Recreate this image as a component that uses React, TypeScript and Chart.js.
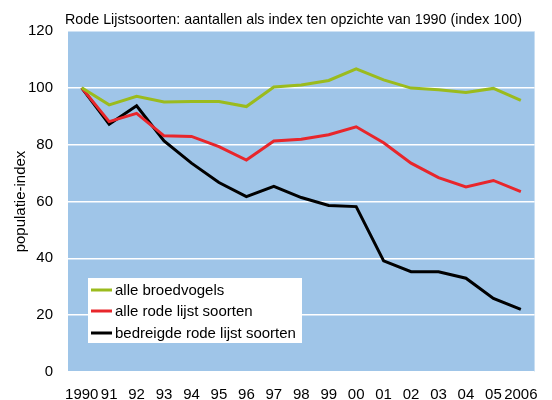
import React, { useEffect, useRef } from "react";
import { Chart, registerables } from "chart.js";

Chart.register(...registerables);

const years = ["1990", "91", "92", "93", "94", "95", "96", "97", "98", "99", "00", "01", "02", "03", "04", "05", "2006"];
const alleBroedvogels = [100, 94, 97, 95, 95.2, 95.2, 93.4, 100.3, 101, 102.6, 106.7, 102.8, 99.9, 99.3, 98.4, 99.8, 95.6];
const alleRodeLijst = [100, 88.1, 91, 83.1, 82.9, 79.3, 74.6, 81.3, 81.9, 83.5, 86.3, 80.7, 73.5, 68.4, 65.1, 67.4, 63.5];
const bedreigdeRodeLijst = [100, 87.2, 93.7, 81.3, 73.5, 66.7, 61.7, 65.3, 61.4, 58.6, 58.2, 39.1, 35.3, 35.3, 33, 25.9, 22];

const seriesLabels = ["alle broedvogels", "alle rode lijst soorten", "bedreigde rode lijst soorten"];
const seriesColors = ["#9bbb1d", "#e8262b", "#000000"];
const titleText = "Rode Lijstsoorten: aantallen als index ten opzichte van 1990 (index 100)";
const yAxisTitle = "populatie-index";

const FONT = "'Liberation Sans', Arial, sans-serif";

const bgPlugin = {
  id: "bgPlugin",
  beforeDraw(chart: any) {
    const { ctx, chartArea } = chart;
    ctx.save();
    ctx.fillStyle = "#9fc5e8";
    ctx.fillRect(chartArea.left, chartArea.top, chartArea.right - chartArea.left, chartArea.bottom - chartArea.top);
    ctx.restore();
  },
};

const overlayPlugin = {
  id: "overlayPlugin",
  afterDraw(chart: any) {
    const { ctx } = chart;
    ctx.save();
    // title
    ctx.font = `14.3px ${FONT}`;
    ctx.fillStyle = "#000";
    ctx.textBaseline = "middle";
    ctx.textAlign = "left";
    ctx.fillText(titleText, 65, 20);
    // legend
    const bx = 88, by = 278, bw = 214, bh = 65;
    ctx.fillStyle = "#ffffff";
    ctx.fillRect(bx, by, bw, bh);
    const rows = [290, 311, 333];
    chart.data.datasets.forEach((ds: any, i: number) => {
      const y = rows[i];
      ctx.strokeStyle = ds.borderColor;
      ctx.lineWidth = 3;
      ctx.beginPath();
      ctx.moveTo(91, y);
      ctx.lineTo(112, y);
      ctx.stroke();
      ctx.fillStyle = "#000";
      ctx.font = `15px ${FONT}`;
      ctx.fillText(ds.label, 115, y + 1);
    });
    ctx.restore();
  },
};

export default function App() {
  const ref = useRef<HTMLCanvasElement>(null);
  useEffect(() => {
    if (!ref.current) return;
    const datasets = [alleBroedvogels, alleRodeLijst, bedreigdeRodeLijst].map((d, i) => ({
      label: seriesLabels[i],
      data: d,
      borderColor: seriesColors[i],
      backgroundColor: seriesColors[i],
      borderWidth: 3,
      pointRadius: 0,
      tension: 0,
      fill: false,
    }));
    const chart = new Chart(ref.current, {
      type: "line",
      data: { labels: years, datasets },
      options: {
        responsive: false,
        animation: false,
        layout: { padding: { top: 31, left: 0, right: 16, bottom: 0 } },
        plugins: { legend: { display: false }, title: { display: false }, tooltip: { enabled: false } },
        scales: {
          x: {
            offset: true,
            grid: { display: false, drawTicks: false },
            border: { display: false },
            ticks: { color: "#000", font: { family: FONT, size: 15 }, padding: 14, autoSkip: false, maxRotation: 0 },
            afterFit(scale: any) { scale.height = 28; },
          },
          y: {
            min: 0,
            max: 120,
            ticks: { stepSize: 20, color: "#000", font: { family: FONT, size: 15 }, padding: 15 },
            grid: { color: "#ffffff", lineWidth: 1.5, drawTicks: false },
            border: { display: false },
            title: { display: true, text: yAxisTitle, color: "#000", font: { family: FONT, size: 15 }, padding: { top: 12, bottom: 0 } },
            afterFit(scale: any) { scale.width = 68; },
          },
        },
      },
      plugins: [bgPlugin, overlayPlugin],
    });
    return () => chart.destroy();
  }, []);
  return (
    <div style={{ position: "absolute", left: 0, top: 0, width: 552, height: 400, background: "#fff" }}>
      <canvas ref={ref} width={552} height={400} />
    </div>
  );
}
